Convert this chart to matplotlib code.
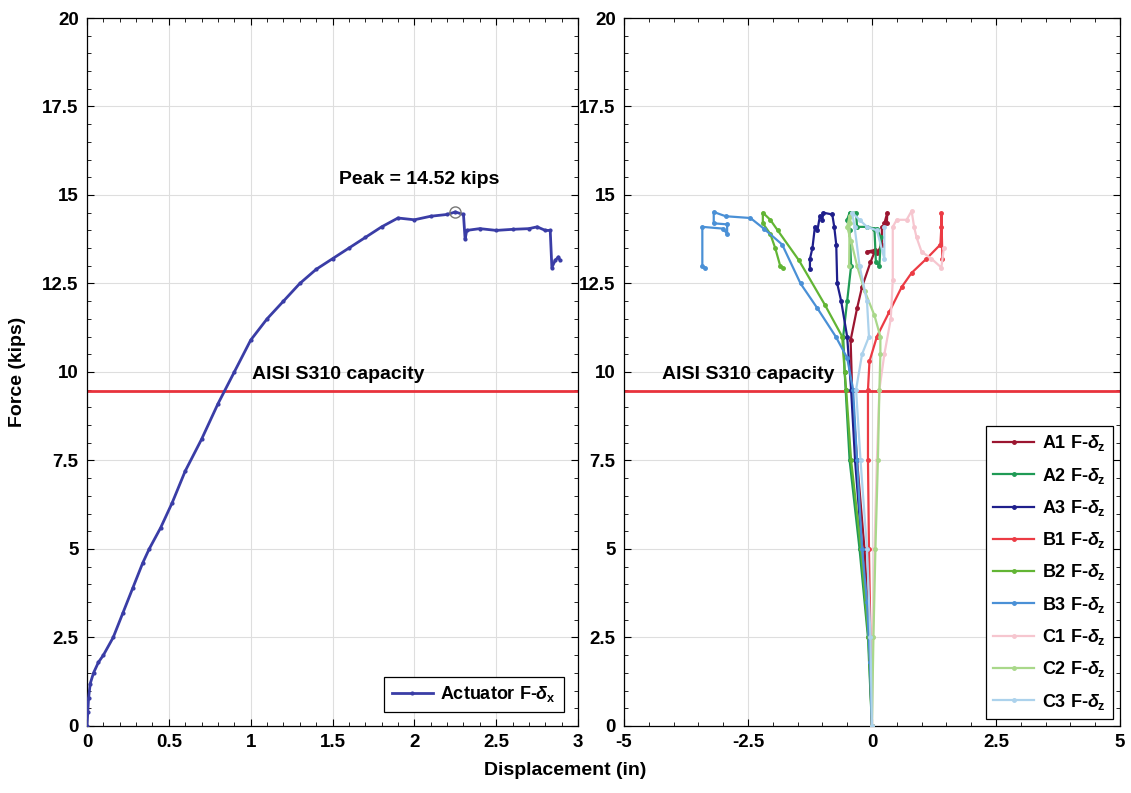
import matplotlib
matplotlib.use("Agg")
import matplotlib.pyplot as plt
from matplotlib.ticker import MultipleLocator

plt.rcParams['font.family'] = ['Liberation Sans', 'DejaVu Sans']
plt.rcParams['font.weight'] = 'bold'
plt.rcParams['font.size'] = 12
plt.rcParams['mathtext.fontset'] = 'custom'
plt.rcParams['mathtext.rm'] = 'Liberation Sans:bold'
plt.rcParams['mathtext.it'] = 'Liberation Sans:italic:bold'
plt.rcParams['mathtext.bf'] = 'Liberation Sans:bold'

# Actuator force vs. horizontal displacement
act_disp = [0, 0.005, 0.01, 0.02, 0.04, 0.07, 0.1, 0.16, 0.22, 0.28, 0.34, 0.38,
            0.45, 0.52, 0.6, 0.7, 0.8, 0.9, 1.0, 1.1, 1.2, 1.3, 1.4, 1.5, 1.6,
            1.7, 1.8, 1.9, 2.0, 2.1, 2.2, 2.25, 2.3, 2.31, 2.32, 2.4, 2.5, 2.6,
            2.7, 2.75, 2.8, 2.83, 2.84, 2.86, 2.88, 2.89]
act_force = [0, 0.4, 0.8, 1.2, 1.5, 1.8, 2.0, 2.5, 3.2, 3.9, 4.6, 5.0,
             5.6, 6.3, 7.2, 8.1, 9.1, 10.0, 10.9, 11.5, 12.0, 12.5, 12.9, 13.2, 13.5,
             13.8, 14.1, 14.35, 14.3, 14.4, 14.45, 14.52, 14.45, 13.75, 14.0, 14.05, 14.0, 14.03,
             14.05, 14.1, 14.0, 14.0, 12.95, 13.15, 13.25, 13.15]
peak_disp = 2.25
peak_force = 14.52
capacity = 9.46

# Gauge force vs. vertical displacement
series_names = ['A1', 'A2', 'A3', 'B1', 'B2', 'B3', 'C1', 'C2', 'C3']
series_colors = ['#9b1530', '#1f9a55', '#1f1f8c', '#ec3b44', '#62b534',
                 '#4a90d6', '#f6c6cf', '#a9d88a', '#acd2ec']

dz_A1 = [0, -0.05, -0.15, -0.3, -0.4, -0.43, -0.3, -0.2, -0.03, 0.07, -0.1, 0.1, 0.2, 0.2, 0.3, 0.31, 0.25]
f_A1 = [0, 2.5, 5, 7.5, 9.5, 10.9, 11.8, 12.4, 13.1, 13.45, 13.4, 13.35, 13.6, 14.1, 14.2, 14.5, 14.2]

dz_A2 = [0, -0.08, -0.25, -0.45, -0.53, -0.55, -0.58, -0.5, -0.42, -0.45, -0.5, -0.45, -0.32, -0.3, -0.1, 0.05, 0.08, 0.15, 0.18, 0.1]
f_A2 = [0, 2.5, 5, 7.5, 9.5, 10, 11, 12, 13, 14.0, 14.3, 14.5, 14.5, 14.1, 14.1, 14.05, 13.1, 13.0, 13.8, 14.05]

dz_A3 = [0, -0.06, -0.2, -0.34, -0.42, -0.5, -0.62, -0.7, -0.72, -0.76, -0.8, -0.98, -1.0, -1.05, -1.1, -1.15, -1.2, -1.25, -1.25]
f_A3 = [0, 2.5, 5, 7.5, 9.5, 11, 12, 12.5, 13.6, 14.1, 14.45, 14.5, 14.3, 14.4, 14.0, 14.1, 13.5, 13.2, 12.9]

dz_B1 = [0, -0.03, -0.06, -0.08, -0.08, -0.05, 0.1, 0.35, 0.6, 0.8, 1.1, 1.38, 1.4, 1.4, 1.42]
f_B1 = [0, 2.5, 5, 7.5, 9.5, 10.3, 11, 11.7, 12.4, 12.8, 13.2, 13.6, 14.1, 14.5, 13.2]

dz_B2 = [0, -0.07, -0.22, -0.42, -0.52, -0.55, -0.6, -0.95, -1.47, -1.9, -2.05, -2.2, -2.2, -2.05, -1.95, -1.85, -1.8]
f_B2 = [0, 2.5, 5, 7.5, 9.5, 10, 11, 11.9, 13.15, 14.0, 14.3, 14.5, 14.2, 13.9, 13.5, 13.0, 12.95]

dz_B3 = [0, -0.04, -0.1, -0.2, -0.3, -0.38, -0.5, -0.73, -1.1, -1.44, -1.81, -2.18, -2.45, -2.95, -3.19, -3.19,
         -2.92, -2.92, -3.0, -3.42, -3.42, -3.37]
f_B3 = [0, 1.8, 3.5, 5, 7.5, 9.5, 10.4, 11, 11.8, 12.5, 13.6, 14.05, 14.35, 14.4, 14.52, 14.2,
        14.17, 13.9, 14.05, 14.1, 13.0, 12.93]

dz_C1 = [0, 0.02, 0.05, 0.1, 0.15, 0.25, 0.38, 0.42, 0.42, 0.5, 0.7, 0.8, 0.85, 0.9, 1.0, 1.2, 1.4, 1.45]
f_C1 = [0, 2.5, 5, 7.5, 9.5, 10.5, 11.5, 12.6, 14.1, 14.3, 14.3, 14.55, 14.1, 13.8, 13.4, 13.2, 12.95, 13.5]

dz_C2 = [0, 0.03, 0.07, 0.12, 0.15, 0.17, 0.17, 0.05, -0.15, -0.3, -0.42, -0.5, -0.45, -0.4, -0.45, -0.46]
f_C2 = [0, 2.5, 5, 7.5, 9.5, 10.5, 11.0, 11.6, 12.3, 13.0, 13.7, 14.1, 14.4, 14.5, 14.2, 13.0]

dz_C3 = [0, -0.03, -0.1, -0.23, -0.32, -0.2, -0.06, -0.1, -0.25, -0.35, -0.4, -0.25, -0.1, 0.1, 0.25, 0.25]
f_C3 = [0, 2.5, 5, 7.5, 9.5, 10.5, 11, 12, 13.0, 14.1, 14.5, 14.3, 14.1, 14.0, 13.2, 14.1]

series_dz = [dz_A1, dz_A2, dz_A3, dz_B1, dz_B2, dz_B3, dz_C1, dz_C2, dz_C3]
series_f = [f_A1, f_A2, f_A3, f_B1, f_B2, f_B3, f_C1, f_C2, f_C3]

fig = plt.figure(figsize=(11.31, 7.93), dpi=100)
ax1 = fig.add_axes([0.0769, 0.0845, 0.4342, 0.8928])
ax2 = fig.add_axes([0.5517, 0.0845, 0.4385, 0.8928])

grid_kw = dict(color='#dedede', linewidth=0.8)
y_ticks = [0, 2.5, 5, 7.5, 10, 12.5, 15, 17.5, 20]
y_labels = ['0', '2.5', '5', '7.5', '10', '12.5', '15', '17.5', '20']


def style_axes(ax):
    ax.grid(True, which='major', **grid_kw)
    ax.set_axisbelow(True)
    ax.tick_params(which='both', direction='in', top=True, right=True, labelsize=13.5)
    ax.tick_params(which='major', length=5, width=0.8, pad=6)
    ax.tick_params(which='minor', length=3, width=0.6)
    ax.yaxis.set_minor_locator(MultipleLocator(0.5))
    ax.set_ylim(0, 20)
    ax.set_yticks(y_ticks)
    ax.set_yticklabels(y_labels)
    for sp in ax.spines.values():
        sp.set_linewidth(0.9)


# Left panel: actuator
style_axes(ax1)
ax1.set_xlim(0, 3)
ax1.xaxis.set_minor_locator(MultipleLocator(0.1))
ax1.set_xticks([0, 0.5, 1, 1.5, 2, 2.5, 3])
ax1.set_xticklabels(['0', '0.5', '1', '1.5', '2', '2.5', '3'])
ax1.axhline(capacity, color='#e8323c', linewidth=2, zorder=2)
ax1.plot(act_disp, act_force, color='#3a3da6', linewidth=2, marker='.', markersize=4,
         label=r'Actuator F-$\delta_{\mathbf{x}}$', zorder=3)
ax1.plot([peak_disp], [peak_force], marker='o', markersize=8, markerfacecolor='none',
         markeredgecolor='#777777', markeredgewidth=1, linestyle='none', zorder=4)
ax1.text(2.03, 15.2, 'Peak = %.2f kips' % peak_force, ha='center', va='bottom',
         fontsize=14, fontweight='bold')
ax1.text(1.01, 9.7, 'AISI S310 capacity', ha='left', va='bottom', fontsize=14, fontweight='bold')
ax1.set_ylabel('Force (kips)', fontsize=14, fontweight='bold', labelpad=12)
leg1 = ax1.legend(loc='lower right', fancybox=False, edgecolor='black', framealpha=1,
                  fontsize=13, handlelength=2.3, borderaxespad=0.8, handletextpad=0.4)
leg1.get_frame().set_linewidth(0.9)

# Right panel: gauges
style_axes(ax2)
ax2.set_xlim(-5, 5)
ax2.xaxis.set_minor_locator(MultipleLocator(0.5))
ax2.set_xticks([-5, -2.5, 0, 2.5, 5])
ax2.set_xticklabels(['-5', '-2.5', '0', '2.5', '5'])
ax2.axhline(capacity, color='#e8323c', linewidth=2, zorder=2)
for name, color, dz, f in zip(series_names, series_colors, series_dz, series_f):
    ax2.plot(dz, f, color=color, linewidth=1.6, marker='.', markersize=5,
             label=name + r' F-$\delta_{\mathbf{z}}$', zorder=3)
ax2.text(-4.23, 9.7, 'AISI S310 capacity', ha='left', va='bottom', fontsize=14, fontweight='bold')
leg2 = ax2.legend(loc='lower right', fancybox=False, edgecolor='black', framealpha=1,
                  fontsize=13, handlelength=2.3, borderaxespad=0.4, labelspacing=0.68,
                  handletextpad=0.4)
leg2.get_frame().set_linewidth(0.9)

fig.text(0.5, 0.018, 'Displacement (in)', ha='center', va='bottom', fontsize=14, fontweight='bold')

fig.savefig('out.png', dpi=100)
